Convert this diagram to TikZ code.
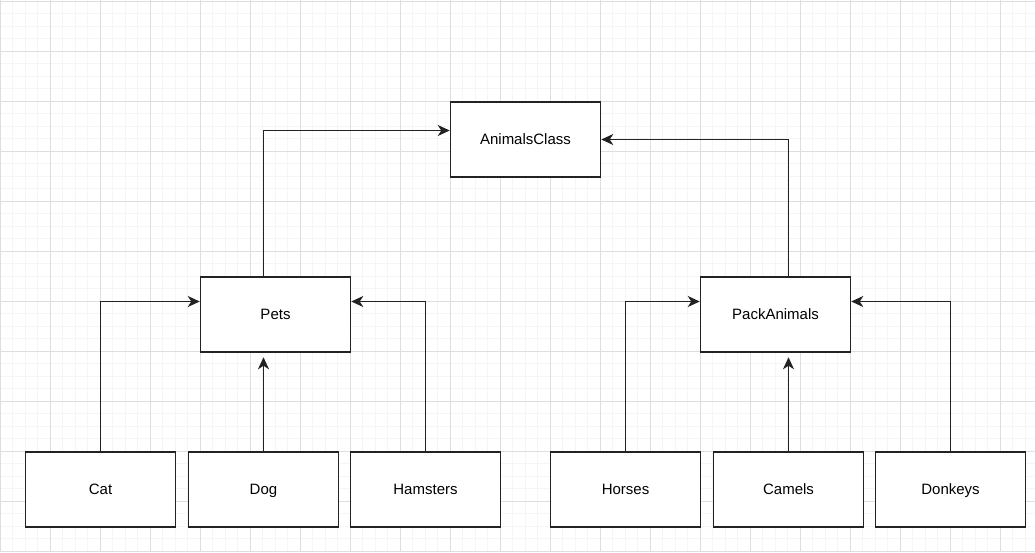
\documentclass[tikz,border=0pt]{standalone}
\usepackage{fontspec}
\setmainfont{Liberation Sans}
\usetikzlibrary{arrows.meta,calc}
\definecolor{gridminor}{HTML}{F5F5F5}
\definecolor{gridmajor}{HTML}{DEDEDE}
\definecolor{linec}{HTML}{222222}
\begin{document}
\begin{tikzpicture}[x=1pt,y=-1pt,
  classbox/.style={draw=linec,line width=1.5pt,fill=white,minimum width=150pt,minimum height=75pt,inner sep=0pt,text height=10.7pt,text depth=0pt,font=\fontsize{15}{18}\selectfont},
  link/.style={draw=linec,line width=1.5pt,-{Stealth[length=12pt,width=11pt,inset=3.5pt]}}]
\useasboundingbox (0,0) rectangle (1035,552);
\fill[white] (0,0) rectangle (1035,552);
% grid
\foreach \i in {0,...,83} {\draw[gridminor,line width=1pt] (\i*12.5,0) -- (\i*12.5,552);}
\foreach \j in {0,...,44} {\draw[gridminor,line width=1pt] (0,1+\j*12.5) -- (1035,1+\j*12.5);}
\foreach \i in {0,...,20} {\draw[gridmajor,line width=1pt] (\i*50,0) -- (\i*50,552);}
\foreach \j in {0,...,11} {\draw[gridmajor,line width=1pt] (0,1+\j*50) -- (1035,1+\j*50);}
% nodes
\node[classbox] (animals) at (525.5,139.5) {AnimalsClass};
\node[classbox] (pets) at (275.5,314.5) {Pets};
\node[classbox] (pack) at (775.5,314.5) {PackAnimals};
\node[classbox] (cat) at (100.5,489.5) {Cat};
\node[classbox] (dog) at (263.5,489.5) {Dog};
\node[classbox] (ham) at (425.5,489.5) {Hamsters};
\node[classbox] (horses) at (625.5,489.5) {Horses};
\node[classbox] (camels) at (788.5,489.5) {Camels};
\node[classbox] (donkeys) at (950.5,489.5) {Donkeys};
% connectors
\draw[link] ($(pets.north)+(-12,0)$) |- ($(animals.west)+(0,-9)$);
\draw[link] ($(pack.north)+(13,0)$) |- (animals.east);
\draw[link] (cat.north) |- ($(pets.west)+(0,-13)$);
\draw[link] (dog.north) -- ($(dog.north |- pets.south)+(0,4.5)$);
\draw[link] (ham.north) |- ($(pets.east)+(0,-13)$);
\draw[link] (horses.north) |- ($(pack.west)+(0,-13)$);
\draw[link] (camels.north) -- ($(camels.north |- pack.south)+(0,4.5)$);
\draw[link] (donkeys.north) |- ($(pack.east)+(0,-13)$);
\end{tikzpicture}
\end{document}
